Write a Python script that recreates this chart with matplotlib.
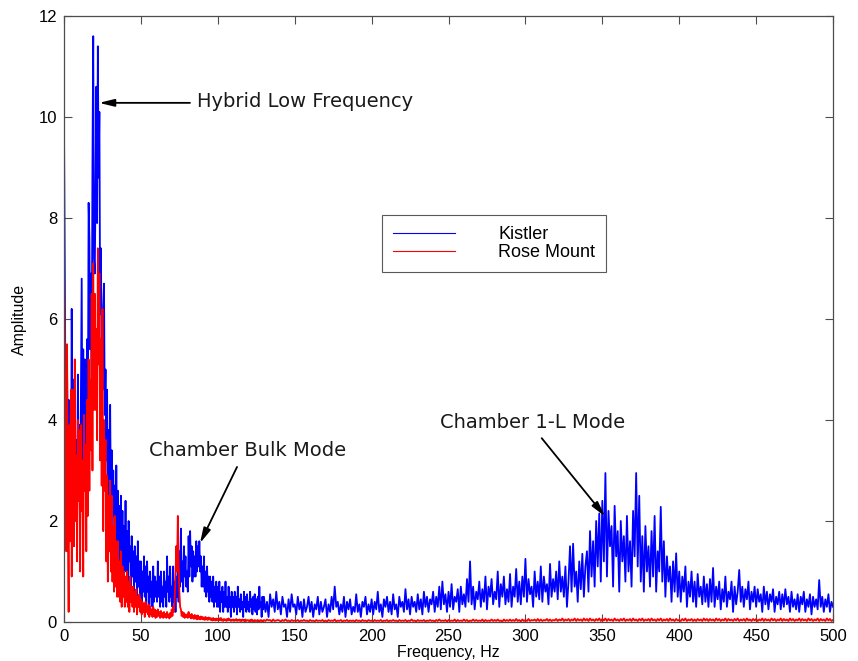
import numpy as np
import matplotlib.pyplot as plt

# amplitude spectra
# 0 - 129.5 Hz in 0.5 Hz bins
kistler_lo = [
    9.8, 7.1, 4.2, 2.8, 5.0, 3.1, 4.4, 2.2, 3.6, 1.8,
    6.2, 3.3, 4.8, 2.4, 4.0, 2.9, 3.6, 1.9, 4.9, 2.7,
    3.9, 2.3, 4.6, 6.8, 3.1, 5.4, 2.6, 5.2, 3.4, 4.1,
    5.6, 3.8, 8.3, 7.6, 5.4, 6.9, 4.8, 9.1, 11.6, 7.2,
    6.9, 8.5, 10.6, 7.9, 11.4, 8.8, 10.1, 6.1, 7.4, 5.2,
    4.6, 6.2, 6.7, 4.1, 5.0, 3.2, 4.6, 2.6, 3.8, 2.4,
    4.3, 2.2, 3.4, 1.9, 3.0, 2.1, 2.7, 1.4, 3.1, 1.6,
    2.6, 1.4, 2.3, 1.1, 2.5, 1.2, 2.2, 0.9, 1.9, 1.0,
    2.4, 1.0, 1.8, 0.7, 2.0, 1.2, 1.5, 0.6, 1.7, 0.9,
    1.4, 0.6, 1.5, 0.8, 1.3, 0.5, 1.6, 0.7, 1.2, 0.5,
    1.2, 0.4, 1.0, 0.6, 1.3, 0.5, 1.1, 0.3, 1.2, 0.6,
    0.9, 0.3, 1.0, 0.5, 0.8, 0.3, 1.1, 0.4, 0.9, 0.5,
    0.8, 0.4, 1.2, 0.5, 0.9, 0.3, 1.0, 0.4, 0.7, 0.3,
    1.0, 0.5, 0.8, 0.3, 1.3, 0.6, 0.9, 0.4, 1.1, 0.5,
    0.7, 0.3, 1.1, 0.4, 0.8, 0.2, 0.9, 0.5, 1.0, 0.4,
    1.4, 0.7, 1.85, 0.8, 1.2, 0.6, 1.5, 0.9, 1.3, 0.7,
    1.0, 0.6, 1.7, 0.9, 1.8, 1.1, 1.5, 0.8, 1.4, 0.9,
    1.3, 0.9, 1.6, 1.0, 1.5, 1.1, 1.6, 1.0, 1.3, 0.7,
    1.1, 0.7, 1.3, 0.6, 1.0, 0.5, 1.1, 0.6, 0.9, 0.4,
    0.9, 0.5, 0.8, 0.4, 0.9, 0.3, 0.7, 0.4, 0.8, 0.3,
    0.7, 0.3, 0.8, 0.2, 0.6, 0.4, 0.7, 0.2, 0.6, 0.3,
    0.8, 0.3, 0.5, 0.2, 0.7, 0.3, 0.5, 0.1, 0.6, 0.3,
    0.5, 0.2, 0.6, 0.3, 0.5, 0.15, 0.7, 0.3, 0.45, 0.2,
    0.55, 0.25, 0.4, 0.1, 0.6, 0.3, 0.5, 0.2, 0.55, 0.25,
    0.4, 0.2, 0.6, 0.3, 0.45, 0.15, 0.5, 0.25, 0.55, 0.2,
    0.45, 0.15, 0.5, 0.25, 0.7, 0.3, 0.4, 0.1, 0.5, 0.25,
]
rosemount_lo = [
    7.0, 5.8, 3.4, 1.4, 5.5, 2.1, 0.2, 3.9, 1.6, 4.6,
    0.9, 3.1, 4.6, 1.5, 5.2, 2.0, 3.3, 1.2, 4.0, 2.4,
    3.8, 1.0, 3.9, 2.2, 3.2, 0.9, 4.1, 2.6, 3.5, 1.4,
    4.4, 2.1, 5.2, 2.6, 4.8, 3.4, 6.5, 3.0, 7.1, 4.2,
    6.5, 4.2, 5.8, 3.6, 7.4, 5.1, 6.9, 3.2, 5.6, 2.7,
    6.2, 1.8, 4.0, 2.6, 3.6, 1.2, 2.9, 0.8, 2.5, 1.4,
    2.8, 1.0, 2.5, 0.8, 1.9, 0.6, 2.1, 0.7, 1.6, 0.5,
    1.6, 0.5, 1.2, 0.4, 1.4, 0.3, 1.1, 0.5, 1.0, 0.3,
    0.9, 0.4, 1.0, 0.3, 0.8, 0.2, 0.9, 0.4, 0.7, 0.3,
    0.7, 0.2, 0.6, 0.3, 0.65, 0.15, 0.5, 0.3, 0.55, 0.2,
    0.45, 0.15, 0.4, 0.2, 0.35, 0.1, 0.4, 0.2, 0.3, 0.15,
    0.35, 0.1, 0.3, 0.15, 0.25, 0.1, 0.3, 0.12, 0.25, 0.08,
    0.22, 0.1, 0.25, 0.12, 0.2, 0.08, 0.22, 0.1, 0.18, 0.08,
    0.2, 0.1, 0.16, 0.08, 0.2, 0.1, 0.15, 0.07, 0.18, 0.1,
    0.25, 0.12, 0.3, 0.2, 0.5, 0.9, 1.5, 1.0, 2.1, 1.2,
    0.6, 0.3, 0.25, 0.12, 0.2, 0.1, 0.18, 0.08, 0.15, 0.1,
    0.15, 0.08, 0.2, 0.1, 0.14, 0.07, 0.16, 0.08, 0.12, 0.06,
    0.14, 0.07, 0.12, 0.05, 0.13, 0.06, 0.1, 0.05, 0.11, 0.06,
    0.1, 0.05, 0.09, 0.04, 0.1, 0.05, 0.08, 0.04, 0.09, 0.05,
    0.08, 0.04, 0.07, 0.03, 0.08, 0.04, 0.06, 0.03, 0.07, 0.04,
    0.06, 0.03, 0.07, 0.04, 0.08, 0.03, 0.05, 0.02, 0.06, 0.04,
    0.05, 0.02, 0.06, 0.03, 0.07, 0.04, 0.05, 0.02, 0.04, 0.03,
    0.05, 0.02, 0.04, 0.03, 0.06, 0.02, 0.04, 0.03, 0.05, 0.02,
    0.04, 0.02, 0.05, 0.03, 0.04, 0.01, 0.05, 0.02, 0.03, 0.04,
    0.03, 0.01, 0.04, 0.02, 0.05, 0.02, 0.03, 0.01, 0.04, 0.02,
    0.03, 0.02, 0.04, 0.01, 0.03, 0.02, 0.04, 0.02, 0.03, 0.01,
]

# 130 - 500 Hz in 1 Hz bins
kistler_hi = [
    0.5, 0.2, 0.4, 0.1, 0.55, 0.3, 0.45, 0.2, 0.6, 0.25,
    0.4, 0.15, 0.5, 0.3, 0.35, 0.1, 0.45, 0.2, 0.55, 0.3,
    0.35, 0.15, 0.5, 0.25, 0.4, 0.1, 0.45, 0.2, 0.3, 0.5,
    0.2, 0.4, 0.1, 0.35, 0.25, 0.5, 0.15, 0.4, 0.2, 0.3,
    0.45, 0.1, 0.35, 0.2, 0.5, 0.25, 0.7, 0.3, 0.4, 0.15,
    0.35, 0.2, 0.5, 0.1, 0.4, 0.25, 0.45, 0.15, 0.3, 0.2,
    0.55, 0.2, 0.35, 0.1, 0.4, 0.3, 0.5, 0.15, 0.35, 0.2,
    0.45, 0.15, 0.4, 0.25, 0.6, 0.2, 0.35, 0.1, 0.45, 0.3,
    0.5, 0.2, 0.4, 0.15, 0.55, 0.25, 0.35, 0.1, 0.5, 0.3,
    0.4, 0.2, 0.65, 0.25, 0.45, 0.15, 0.5, 0.3, 0.4, 0.2,
    0.55, 0.25, 0.45, 0.15, 0.6, 0.3, 0.5, 0.2, 0.45, 0.35,
    0.6, 0.2, 0.5, 0.3, 0.7, 0.25, 0.8, 0.35, 0.55, 0.2,
    0.6, 0.3, 0.75, 0.25, 0.5, 0.4, 0.65, 0.2, 0.7, 0.35,
    0.55, 0.3, 0.85, 0.4, 1.2, 0.35, 0.7, 0.25, 0.6, 0.45,
    0.8, 0.3, 0.65, 0.4, 0.9, 0.25, 0.7, 0.5, 0.85, 0.35,
    0.6, 0.45, 1.0, 0.3, 0.75, 0.5, 0.9, 0.35, 0.65, 0.4,
    0.95, 0.3, 0.7, 0.5, 1.05, 0.4, 0.8, 0.35, 0.9, 0.5,
    1.25, 0.4, 0.85, 0.55, 0.7, 0.3, 1.0, 0.5, 0.8, 0.45,
    1.1, 0.4, 0.9, 0.6, 0.75, 0.35, 1.15, 0.5, 0.85, 0.6,
    1.0, 0.45, 1.2, 0.6, 0.9, 0.5, 1.1, 0.3, 0.8, 1.5,
    0.6, 1.55, 0.7, 1.0, 0.4, 1.2, 0.65, 1.35, 0.5, 1.1,
    1.4, 0.6, 1.8, 0.9, 1.6, 0.7, 2.0, 1.1, 2.15, 0.8,
    2.4, 1.2, 2.95, 0.9, 2.2, 1.5, 1.9, 0.7, 2.3, 1.3,
    1.8, 0.6, 2.0, 1.2, 1.7, 0.8, 2.1, 1.0, 1.6, 0.7,
    2.2, 1.3, 2.95, 1.1, 2.5, 0.8, 1.7, 0.6, 1.9, 1.0,
    1.5, 0.7, 1.8, 0.9, 2.1, 0.6, 1.4, 1.0, 2.28, 0.8,
    1.6, 0.5, 1.3, 0.8, 1.1, 0.4, 1.2, 0.6, 1.36, 0.5,
    1.0, 0.4, 0.9, 0.6, 1.1, 0.3, 0.8, 0.5, 1.0, 0.4,
    0.8, 0.3, 0.95, 0.5, 0.7, 0.35, 0.9, 0.4, 0.75, 0.3,
    0.85, 0.4, 1.07, 0.3, 0.7, 0.45, 0.8, 0.25, 0.65, 0.4,
    0.9, 0.3, 0.6, 0.45, 0.8, 0.2, 0.7, 0.35, 0.6, 1.03,
    0.4, 0.7, 0.3, 0.65, 0.45, 0.8, 0.25, 0.6, 0.4, 0.7,
    0.3, 0.65, 0.4, 0.55, 0.2, 0.7, 0.35, 0.6, 0.25, 0.55,
    0.4, 0.65, 0.2, 0.5, 0.35, 0.6, 0.25, 0.55, 0.3, 0.65,
    0.35, 0.5, 0.2, 0.6, 0.3, 0.45, 0.25, 0.55, 0.2, 0.5,
    0.35, 0.6, 0.2, 0.45, 0.3, 0.55, 0.15, 0.5, 0.3, 0.45,
    0.25, 0.83, 0.3, 0.5, 0.2, 0.45, 0.3, 0.55, 0.2, 0.4,
    0.3,
]
rosemount_hi = [
    0.04, 0.02, 0.05, 0.03, 0.04, 0.01, 0.05, 0.02, 0.03, 0.04,
    0.03, 0.01, 0.04, 0.02, 0.05, 0.02, 0.03, 0.01, 0.04, 0.02,
    0.03, 0.02, 0.04, 0.01, 0.03, 0.02, 0.04, 0.02, 0.03, 0.01,
    0.04, 0.02, 0.03, 0.01, 0.04, 0.02, 0.03, 0.02, 0.04, 0.01,
    0.03, 0.01, 0.04, 0.02, 0.03, 0.02, 0.05, 0.01, 0.03, 0.02,
    0.04, 0.01, 0.03, 0.02, 0.04, 0.01, 0.03, 0.02, 0.03, 0.01,
    0.04, 0.02, 0.03, 0.01, 0.04, 0.02, 0.03, 0.01, 0.04, 0.02,
    0.03, 0.01, 0.04, 0.02, 0.03, 0.02, 0.04, 0.01, 0.03, 0.02,
    0.04, 0.01, 0.03, 0.02, 0.04, 0.02, 0.03, 0.01, 0.04, 0.02,
    0.03, 0.02, 0.04, 0.01, 0.03, 0.02, 0.05, 0.02, 0.03, 0.01,
    0.04, 0.02, 0.03, 0.02, 0.04, 0.01, 0.03, 0.02, 0.04, 0.02,
    0.03, 0.01, 0.04, 0.02, 0.05, 0.02, 0.03, 0.02, 0.04, 0.01,
    0.04, 0.02, 0.03, 0.02, 0.05, 0.01, 0.04, 0.02, 0.03, 0.02,
    0.05, 0.02, 0.04, 0.01, 0.03, 0.02, 0.05, 0.02, 0.04, 0.02,
    0.03, 0.02, 0.05, 0.01, 0.04, 0.02, 0.03, 0.02, 0.05, 0.02,
    0.04, 0.02, 0.05, 0.02, 0.03, 0.01, 0.05, 0.02, 0.04, 0.02,
    0.05, 0.02, 0.04, 0.02, 0.06, 0.02, 0.04, 0.01, 0.05, 0.02,
    0.04, 0.02, 0.06, 0.02, 0.04, 0.03, 0.05, 0.02, 0.06, 0.02,
    0.05, 0.02, 0.04, 0.03, 0.06, 0.02, 0.05, 0.02, 0.04, 0.03,
    0.06, 0.02, 0.05, 0.03, 0.07, 0.02, 0.05, 0.03, 0.06, 0.02,
    0.05, 0.03, 0.07, 0.02, 0.06, 0.03, 0.05, 0.02, 0.07, 0.03,
    0.06, 0.02, 0.07, 0.03, 0.05, 0.02, 0.06, 0.03, 0.07, 0.02,
    0.06, 0.03, 0.07, 0.02, 0.06, 0.03, 0.05, 0.02, 0.07, 0.03,
    0.05, 0.02, 0.06, 0.03, 0.07, 0.02, 0.05, 0.03, 0.06, 0.02,
    0.07, 0.03, 0.05, 0.02, 0.06, 0.03, 0.07, 0.02, 0.05, 0.03,
    0.06, 0.02, 0.07, 0.03, 0.05, 0.02, 0.06, 0.03, 0.07, 0.02,
    0.05, 0.03, 0.06, 0.02, 0.07, 0.03, 0.05, 0.02, 0.06, 0.03,
    0.04, 0.02, 0.06, 0.03, 0.07, 0.02, 0.05, 0.03, 0.06, 0.02,
    0.05, 0.02, 0.06, 0.03, 0.05, 0.02, 0.07, 0.03, 0.06, 0.02,
    0.06, 0.03, 0.05, 0.02, 0.07, 0.03, 0.06, 0.02, 0.05, 0.03,
    0.07, 0.02, 0.06, 0.03, 0.05, 0.02, 0.06, 0.03, 0.07, 0.02,
    0.05, 0.03, 0.06, 0.02, 0.07, 0.03, 0.05, 0.02, 0.06, 0.03,
    0.06, 0.02, 0.05, 0.03, 0.07, 0.02, 0.06, 0.03, 0.05, 0.02,
    0.07, 0.03, 0.06, 0.02, 0.05, 0.03, 0.07, 0.02, 0.06, 0.03,
    0.05, 0.02, 0.07, 0.03, 0.06, 0.02, 0.05, 0.03, 0.07, 0.02,
    0.06, 0.03, 0.05, 0.02, 0.07, 0.03, 0.06, 0.02, 0.05, 0.03,
    0.07, 0.02, 0.06, 0.03, 0.05, 0.02, 0.07, 0.03, 0.06, 0.02,
    0.04,
]

xticks = [0, 50, 100, 150, 200, 250, 300, 350, 400, 450, 500]
yticks = [0, 2, 4, 6, 8, 10, 12]

kistler_hz = np.concatenate([np.arange(len(kistler_lo)) * 0.5,
                             130 + np.arange(len(kistler_hi))])
rosemount_hz = np.concatenate([np.arange(len(rosemount_lo)) * 0.5,
                               130 + np.arange(len(rosemount_hi))])
kistler = kistler_lo + kistler_hi
rosemount = rosemount_lo + rosemount_hi

plt.rcParams['font.family'] = ['Liberation Sans', 'DejaVu Sans']

fig = plt.figure(figsize=(8.58, 6.61), dpi=100)
ax = fig.add_axes([0.0746, 0.059, 0.8963, 0.9168])

ax.plot(kistler_hz, kistler, color='#0000ff', lw=1.3, label='Kistler')
ax.plot(rosemount_hz, rosemount, color='#ff0000', lw=1.3, label='Rose Mount')

ax.set_xlim(0, 500)
ax.set_ylim(0, 12)
ax.set_xticks(xticks)
ax.set_yticks(yticks)
ax.tick_params(direction='in', top=True, right=True, length=6, width=0.8,
               color='0.3', labelsize=12, pad=5)
for s in ax.spines.values():
    s.set_linewidth(0.9)
    s.set_color('0.3')
ax.set_xlabel('Frequency, Hz', fontsize=11.5, labelpad=1)
ax.set_ylabel('Amplitude', fontsize=11.5, labelpad=8)

leg = ax.legend(loc='upper left', bbox_to_anchor=(0.4135, 0.6716), borderaxespad=0,
                fancybox=False, edgecolor='0.35', framealpha=1, fontsize=13,
                handlelength=3.43, handletextpad=2.4, labelspacing=0.08,
                borderpad=0.6)
leg.get_frame().set_linewidth(0.8)
for ln in leg.get_lines():
    ln.set_linewidth(0.8)

arrow = dict(arrowstyle='-|>,head_length=0.9,head_width=0.22', color='k', lw=1.3,
             shrinkA=0, shrinkB=0)
note = dict(fontsize=14, family='DejaVu Sans', va='center', ha='left', color='#1a1a1a')

ax.annotate('', xy=(22.8, 10.28), xytext=(81.9, 10.28), arrowprops=arrow)
ax.text(86.5, 10.3, 'Hybrid Low Frequency', **note)

ax.annotate('', xy=(88.4, 1.56), xytext=(112.5, 3.07), arrowprops=arrow)
ax.text(55.3, 3.4, 'Chamber Bulk Mode', **note)

ax.annotate('', xy=(351.8, 2.09), xytext=(310.6, 3.64), arrowprops=arrow)
ax.text(244.5, 3.96, 'Chamber 1-L Mode', **note)

fig.savefig('out.png', dpi=100)
